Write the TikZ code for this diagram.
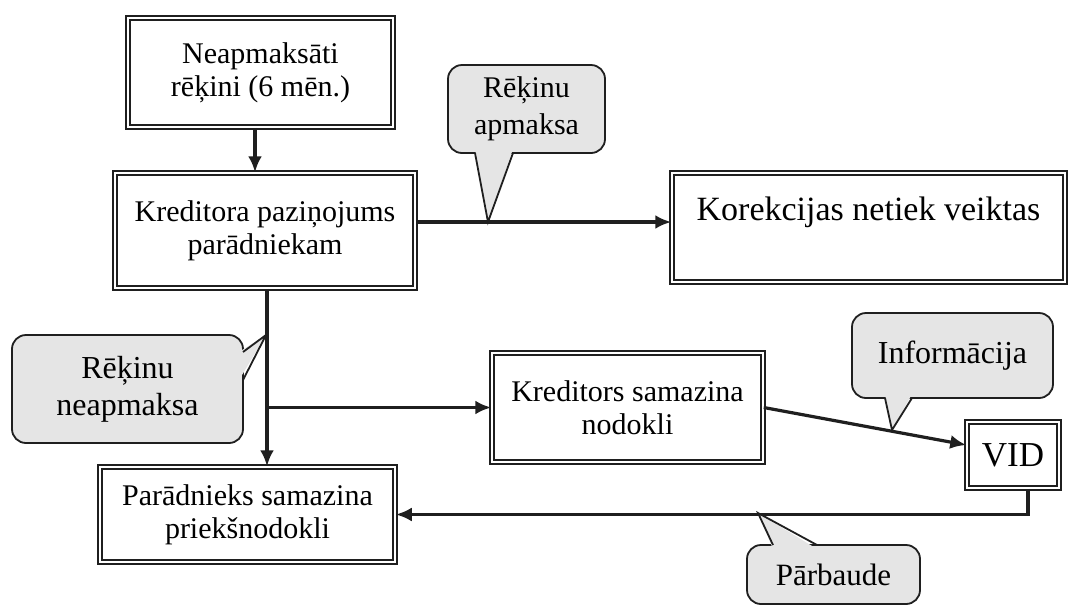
\documentclass[tikz,border=0pt]{standalone}
\usepackage{fontspec}
\setmainfont{Liberation Serif}
\usetikzlibrary{arrows.meta,calc}
\definecolor{calloutgray}{gray}{0.9}
\definecolor{ink}{gray}{0.12}

\begin{document}
\begin{tikzpicture}[x=0.5pt,y=-0.5pt,
  box/.style={draw=ink, double, double distance=1.4pt, line width=0.75pt,
    align=center, inner sep=0pt, font=\fontsize{15}{16.5}\selectfont},
  callout/.style={draw=ink, line width=0.9pt, fill=calloutgray,
    rounded corners=7pt, align=center, inner sep=0pt},
  tailfill/.style={fill=calloutgray},
  tailline/.style={draw=ink, line width=0.9pt, line join=miter},
  arr/.style={draw=ink, line width=1.6pt, -{Latex[length=8pt,width=7pt]}},
]
\useasboundingbox (0,0) rectangle (1077,606);

% process boxes
\node[box, minimum width=132.5pt, minimum height=54.5pt] (b1) at (260.5,72.5)
  {Neapmaksāti\\rēķini (6 mēn.)};
\node[box, minimum width=150pt, minimum height=57.5pt] (b2) at (265,230.5)
  {Kreditora paziņojums\\parādniekam};
\node[box, minimum width=196.5pt, minimum height=54.5pt] (b3) at (868.5,227.5) {};
\node[font=\fontsize{17}{20}\selectfont] (b3t) at (868.5,212) {Korekcijas netiek veiktas};
\node[box, minimum width=135.5pt, minimum height=54.5pt] (b4) at (627.5,407.5)
  {Kreditors samazina\\nodokli};
\node[box, minimum width=46pt, minimum height=33pt, font=\fontsize{17.5}{20}\selectfont]
  (vid) at (1013,455) {VID};
\node[box, minimum width=147.5pt, minimum height=47.5pt] (b5) at (247.5,514.5)
  {Parādnieks samazina\\priekšnodokli};

% connectors
\draw[arr] ([xshift=-2.75pt]b1.south) -- ([xshift=-2.75pt]b1.south |- b2.north);
\coordinate (s1) at ([yshift=4.25pt]b2.east);
\draw[arr] (s1) -- (s1 -| b3.west);
\coordinate (s2) at ([xshift=1pt]b2.south);
\draw[arr] (s2) -- (s2 |- b5.north);
\coordinate (j1) at (s2 |- b4.west);
\draw[arr] (j1) -- (b4.west);
\draw[arr] (b4.east) -- ([yshift=5pt]vid.west);
\draw[arr] ([xshift=7.5pt]vid.south) |- (b5.east);

% callouts
\node[callout, minimum width=78.5pt, minimum height=44pt,
  font=\fontsize{15}{18.5}\selectfont] (c1) at (526.5,109) {Rēķinu\\apmaksa};
\node[callout, minimum width=115.5pt, minimum height=54pt,
  font=\fontsize{16}{18.5}\selectfont] (c2) at (127.5,389) {Rēķinu\\neapmaksa};
\node[callout, minimum width=100.5pt, minimum height=42.5pt,
  font=\fontsize{16}{18.5}\selectfont] (c3) at (952.5,355.5) {Informācija};
\node[callout, minimum width=86.5pt, minimum height=29.5pt,
  font=\fontsize{15.5}{18.5}\selectfont] (c4) at (833.5,574.5) {Pārbaude};

% callout tails
\coordinate (t1) at (488,222);
\coordinate (t2) at (266,335);
\coordinate (t3) at (892,430);
\coordinate (t4) at (758,513);

\fill[tailfill] (475,149) -- (t1) -- (513,149) -- cycle;
\draw[tailline] (475,153) -- (t1) -- (513,153);

\fill[tailfill] (239,352) -- (t2) -- (239,380) -- cycle;
\draw[tailline] (243,352) -- (t2) -- (243,380);

\fill[tailfill] (885,394) -- (t3) -- (912,394) -- cycle;
\draw[tailline] (885,398) -- (t3) -- (912,398);

\fill[tailfill] (773,549) -- (t4) -- (817,549) -- cycle;
\draw[tailline] (773,545) -- (t4) -- (817,545);
\end{tikzpicture}
\end{document}
